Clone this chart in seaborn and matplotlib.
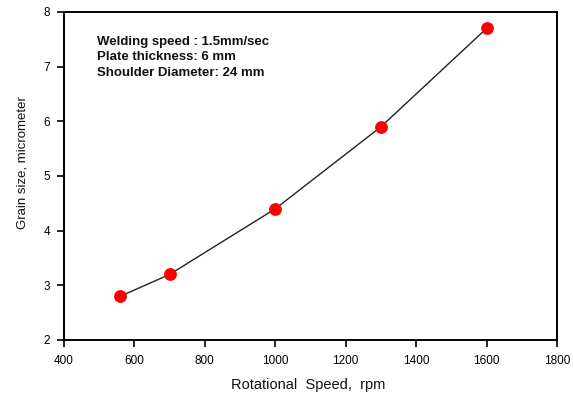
import matplotlib
matplotlib.use("Agg")
import matplotlib.pyplot as plt
import seaborn as sns
import pandas as pd

rotational_speed = [560, 700, 1000, 1300, 1600]
grain_size = [2.8, 3.2, 4.4, 5.9, 7.7]
x_ticks = [400, 600, 800, 1000, 1200, 1400, 1600, 1800]
y_ticks = [2, 3, 4, 5, 6, 7, 8]
notes = ["Welding speed : 1.5mm/sec", "Plate thickness: 6 mm", "Shoulder Diameter: 24 mm"]

sns.set_theme(style="white")
plt.rcParams['font.family'] = ['Liberation Sans', 'DejaVu Sans']

df = pd.DataFrame({"speed": rotational_speed, "size": grain_size})

fig = plt.figure(figsize=(5.73, 4.0), dpi=100)
ax = fig.add_axes([64/573, 1-340/400, (557-64)/573, (340-12)/400])

sns.lineplot(data=df, x="speed", y="size", ax=ax, color="#222222", linewidth=1.0)
sns.scatterplot(data=df, x="speed", y="size", ax=ax, color="#ff0000", s=85,
                edgecolor="#ff0000", linewidth=0, zorder=3)

ax.set_xlim(400, 1800)
ax.set_ylim(2, 8)
ax.set_xticks(x_ticks)
ax.set_yticks(y_ticks)
ax.tick_params(axis="both", which="both", direction="out", length=5, width=1.2,
               labelsize=8.5, colors="black", bottom=True, left=True)
ax.tick_params(axis="x", pad=6)
ax.tick_params(axis="y", pad=5)
for s in ax.spines.values():
    s.set_color("black")
    s.set_linewidth(1.4)

ax.set_xlabel("Rotational  Speed,  rpm", fontsize=10.5, color="#111111")
ax.set_ylabel("Grain size, micrometer", fontsize=9.5, color="#111111")
ax.xaxis.set_label_coords(308/573, 1-378/400, transform=fig.transFigure)
ax.yaxis.set_label_coords(29/573, 1-163/400, transform=fig.transFigure)

for i, t in enumerate(notes):
    ax.text(97/573, 1-(42 + i*15.5)/400, t, transform=fig.transFigure,
            fontsize=9.5, fontweight="bold", va="center", ha="left", color="#111111")

fig.savefig("out.png", dpi=100)
